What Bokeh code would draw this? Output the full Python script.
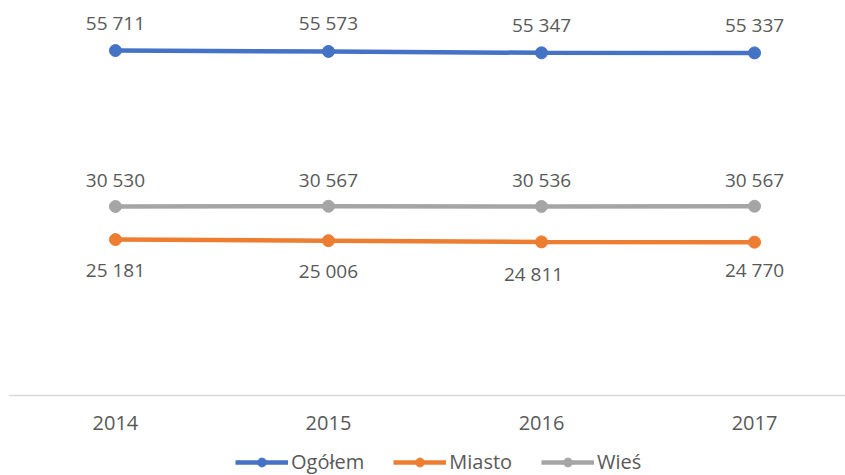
from bokeh.plotting import figure
from bokeh.models import ColumnDataSource, Range1d, FixedTicker, Legend, LegendItem, LabelSet
from bokeh.core.properties import value
from bokeh.embed import file_html
from bokeh.resources import INLINE

years = ["2014", "2015", "2016", "2017"]
ogolem = [55711, 55573, 55347, 55337]
miasto = [25181, 25006, 24811, 24770]
wies = [30530, 30567, 30536, 30567]

def fmt(v):
    return f"{v:,}".replace(",", " ")

xs = list(range(len(years)))
FONT = "Open Sans"
TXT = "#595959"

# frame covers whole canvas below the data; x axis is pinned at y = 0
p = figure(width=845, height=475, output_backend="svg", toolbar_location=None,
           x_range=Range1d(-0.502, 3.427), y_range=Range1d(-12920, 63800),
           min_border_left=8, min_border_right=0, min_border_top=0, min_border_bottom=0)
p.outline_line_color = None
p.xgrid.visible = False
p.ygrid.visible = False
p.yaxis.visible = False
p.background_fill_color = "white"

ax = p.xaxis[0]
ax.fixed_location = 0
ax.ticker = FixedTicker(ticks=xs)
ax.major_label_overrides = {i: y for i, y in zip(xs, years)}
ax.axis_line_color = "#d9d9d9"
ax.axis_line_width = 1.5
ax.major_tick_line_color = None
ax.minor_tick_line_color = None
ax.major_label_standoff = 14
ax.major_label_text_font = FONT
ax.major_label_text_font_size = "20px"
ax.major_label_text_color = TXT

series = [("Ogółem", ogolem, "#4472C4", 28),
          ("Wieś", wies, "#A5A5A5", 26),
          ("Miasto", miasto, "#ED7D31", -30)]
renderers = {}
for name, vals, col, off in series:
    if name == "Miasto":
        xo = [0, 0, -8, 0]
        yo = [off, off, off - 2, off + 2]
    else:
        xo = [0, 0, 0, 0]
        yo = [off] * 4
    src = ColumnDataSource(dict(x=xs, y=vals, lab=[fmt(v) for v in vals], xo=xo, yo=yo))
    l = p.line("x", "y", source=src, line_color=col, line_width=4.5)
    c = p.scatter("x", "y", source=src, size=12, fill_color=col, line_color=col)
    renderers[name] = [l, c]
    lbl = LabelSet(x="x", y="y", text="lab", source=src, x_offset="xo", y_offset="yo",
                   text_align="center", text_baseline="middle",
                   text_font=value(FONT), text_font_size=value("19px"), text_color=value(TXT))
    p.add_layout(lbl)

items = [LegendItem(label="Ogółem", renderers=renderers["Ogółem"]),
         LegendItem(label="Miasto", renderers=renderers["Miasto"]),
         LegendItem(label="Wieś", renderers=renderers["Wieś"])]
legend = Legend(items=items, orientation="horizontal", location=(227, 0),
                glyph_width=53, glyph_height=22, label_standoff=3, spacing=29,
                padding=0, margin=0, border_line_alpha=0, background_fill_alpha=0,
                label_text_font=FONT, label_text_font_size="20px", label_text_color=TXT)
p.add_layout(legend, "center")

open("out.html", "w").write(file_html(p, INLINE))
